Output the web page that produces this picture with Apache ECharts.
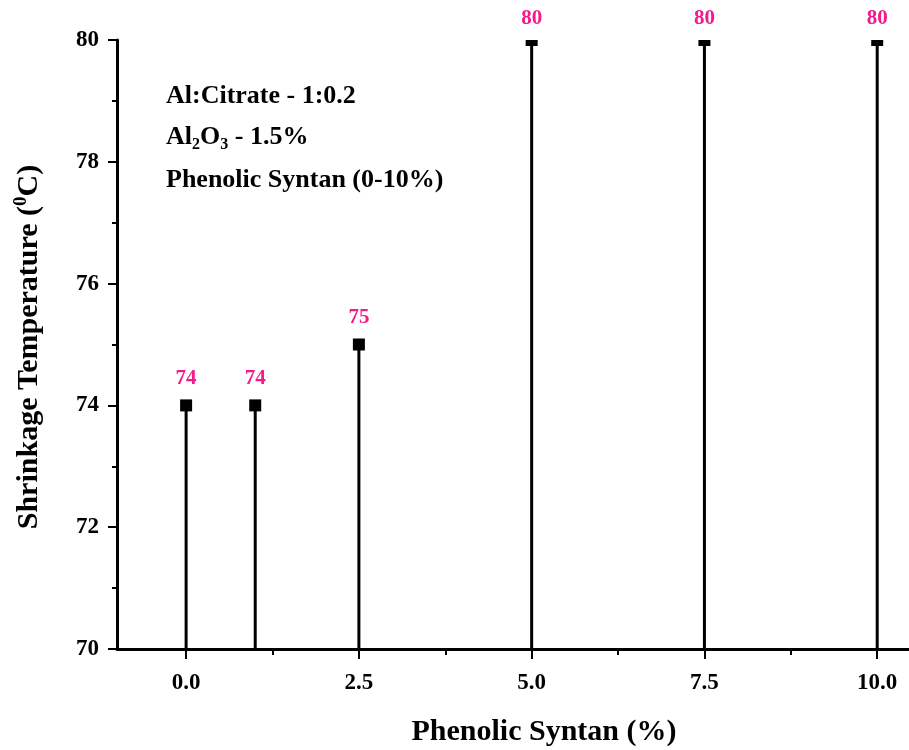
<!DOCTYPE html>
<html><head><meta charset="utf-8">
<script src="https://cdn.jsdelivr.net/npm/echarts@6/dist/echarts.min.js"></script>
<style>html,body{margin:0;padding:0;background:#fff}#c{width:909px;height:750px}</style>
</head><body><div id="c"></div>
<script>
const syntan = [0, 1, 2.5, 5, 7.5, 10];
const shrinkTemp = [74, 74, 75, 80, 80, 80];
const xTicks = [0, 2.5, 5, 7.5, 10];
const xMinorTicks = [1.25, 3.75, 6.25, 8.75];
const yTicks = [70, 72, 74, 76, 78, 80];

const FONT = '"Liberation Serif","Times New Roman",serif';
const pts = syntan.map((x, i) => [x, shrinkTemp[i]]);

const chart = echarts.init(document.getElementById('c'));
chart.setOption({
  animation: false,
  backgroundColor: '#fff',
  grid: { left: 117, right: 0, top: 40, bottom: 101, containLabel: false },
  xAxis: [{
    type: 'value', min: -1, max: 10.46,
    axisLine: { show: true, onZero: false, lineStyle: { color: '#000', width: 3 } },
    axisTick: { show: true, customValues: xTicks, length: 10, lineStyle: { color: '#000', width: 2 } },
    axisLabel: { show: true, customValues: xTicks, formatter: v => Number(v).toFixed(1),
      color: '#000', fontFamily: FONT, fontWeight: 'bold', fontSize: 23, margin: 23 },
    splitLine: { show: false }
  }, {
    type: 'value', min: -1, max: 10.46, position: 'bottom',
    axisLine: { show: false, onZero: false },
    axisTick: { show: true, customValues: xMinorTicks, length: 6, lineStyle: { color: '#000', width: 2 } },
    axisLabel: { show: false },
    splitLine: { show: false }
  }],
  yAxis: {
    type: 'value', min: 70, max: 80, interval: 2,
    axisLine: { show: true, onZero: false, lineStyle: { color: '#000', width: 3 } },
    axisTick: { show: true, length: 9, lineStyle: { color: '#000', width: 2 } },
    minorTick: { show: true, splitNumber: 2, length: 5, lineStyle: { color: '#000', width: 2 } },
    axisLabel: { color: '#000', fontFamily: FONT, fontWeight: 'bold', fontSize: 23, margin: 18 },
    splitLine: { show: false }
  },
  series: [{
    type: 'custom', data: pts, clip: false, silent: true,
    renderItem: function (params, api) {
      const v = api.value(1);
      const top = api.coord([api.value(0), v]);
      const base = api.coord([api.value(0), 70]);
      const cs = params.coordSys;
      const area = { x: cs.x, y: cs.y, width: cs.width, height: cs.height };
      const sq = echarts.graphic.clipRectByRect({ x: top[0] - 6, y: top[1] - 6, width: 12, height: 12 }, area);
      const children = [{
        type: 'line', shape: { x1: top[0], y1: top[1], x2: base[0], y2: base[1] },
        style: { stroke: '#000', lineWidth: 3 }
      }];
      let markTop = top[1] - 6;
      if (sq) { children.push({ type: 'rect', shape: sq, style: { fill: '#000' } }); markTop = sq.y; }
      children.push({
        type: 'text', x: top[0], y: markTop - 21,
        style: { text: String(v), fill: '#f41a8c', font: 'bold 21px ' + FONT,
          align: 'center', verticalAlign: 'middle' }
      });
      return { type: 'group', children: children };
    }
  }],
  graphic: [{
    type: 'text', x: 166, y: 96,
    style: { text: 'Al:Citrate - 1:0.2', fill: '#000', font: 'bold 26px ' + FONT, verticalAlign: 'middle' }
  }, {
    type: 'text', x: 166, y: 137,
    style: { text: 'Al{sub|2}O{sub|3} - 1.5%', fill: '#000', font: 'bold 26px ' + FONT, verticalAlign: 'middle',
      rich: { sub: { fontSize: 16, fontWeight: 'bold', fontFamily: FONT, padding: [16, 0, 0, 0] } } }
  }, {
    type: 'text', x: 166, y: 180,
    style: { text: 'Phenolic Syntan (0-10%)', fill: '#000', font: 'bold 26px ' + FONT, verticalAlign: 'middle' }
  }, {
    type: 'text', x: 544, y: 732,
    style: { text: 'Phenolic Syntan (%)', fill: '#000', font: 'bold 30px ' + FONT,
      align: 'center', verticalAlign: 'middle' }
  }, {
    type: 'text', x: 29, y: 347, rotation: Math.PI / 2,
    style: { text: 'Shrinkage Temperature ({sup|0}C)', fill: '#000', font: 'bold 30px ' + FONT,
      align: 'center', verticalAlign: 'middle',
      rich: { sup: { fontSize: 19, fontWeight: 'bold', fontFamily: FONT, padding: [0, 0, 15, 0] } } }
  }]
});
</script></body></html>
